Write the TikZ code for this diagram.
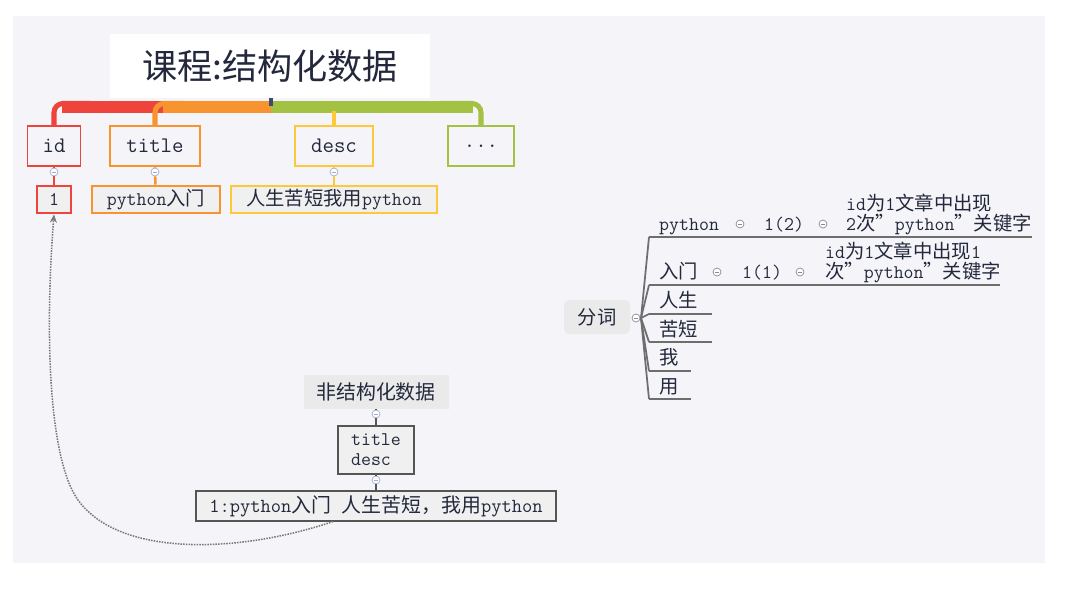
\documentclass[tikz,border=0pt]{standalone}
\usepackage{fontspec}
\newfontfamily\cjk{Noto Sans CJK SC}
\usetikzlibrary{arrows.meta}
\definecolor{cred}{RGB}{238,68,60}
\definecolor{corange}{RGB}{247,148,48}
\definecolor{cyellow}{RGB}{253,200,58}
\definecolor{cgreen}{RGB}{163,194,68}
\definecolor{cbg}{RGB}{245,245,249}
\definecolor{cfill}{RGB}{240,240,240}
\definecolor{cfen}{RGB}{234,234,234}
\definecolor{cdark}{RGB}{85,85,85}
\definecolor{cline}{RGB}{110,110,110}
\definecolor{ctext}{RGB}{35,40,60}
\definecolor{cfold}{RGB}{160,172,205}
\definecolor{cgrey}{RGB}{140,140,140}
\definecolor{cnavy}{RGB}{60,75,110}
\definecolor{cdot}{RGB}{120,120,120}
\newcommand\zh[1]{{\cjk #1}}

\begin{document}
\begin{tikzpicture}[x=0.03cm,y=-0.03cm,font=\ttfamily\fontsize{16.5}{17}\selectfont,text=ctext,
  lvl/.style={draw=#1,line width=1.7pt,fill=cbg,minimum height=1.2cm,font=\ttfamily\fontsize{19}{22}\selectfont},
  leaf/.style={draw=#1,line width=2.5pt,fill=cfill,minimum height=0.81cm,inner sep=0pt},
  fold/.style={circle,draw=#1,fill=white,line width=0.6pt,inner sep=0pt,minimum size=6.8pt,
    path picture={\draw[#1,line width=0.6pt] ([xshift=1.6pt]path picture bounding box.west) -- ([xshift=-1.6pt]path picture bounding box.east);}},
  word/.style={anchor=base west,inner sep=0pt},
  twig/.style={cline,line width=1.1pt}]
\useasboundingbox (0,0) rectangle (1073,603);
\fill[white] (0,0) rectangle (1073,603);
\fill[cbg] (13,16) rectangle (1045,563);

\node[fill=white,minimum width=9.6cm,minimum height=1.92cm,font=\cjk\fontsize{30}{34}\selectfont] (course) at (270,66) {课程:结构化数据};

\node[lvl=cred,minimum width=1.59cm] (id) at (54,146) {id};
\node[lvl=corange,minimum width=2.7cm] (title) at (155,146) {title};
\node[lvl=cyellow,minimum width=2.34cm] (desc) at (334,146) {desc};
\node[lvl=cgreen,minimum width=1.98cm] (more) at (481,146) {...};

\draw[cred,line width=4.3pt,rounded corners=7.7pt] (id.north) |- (90,103.5);
\draw[cred,line width=10.2pt] (62,107) -- (165,107);
\draw[corange,line width=4.3pt,rounded corners=7.7pt] (title.north) |- (185,103.5);
\draw[corange,line width=10.2pt] (163,107) -- (271,107);
\draw[cgreen,line width=4.3pt,rounded corners=7.7pt] (more.north) |- (440,103.5);
\draw[cgreen,line width=10.2pt] (271,107) -- (473,107);
\draw[cyellow,line width=2.6pt] (desc.north) -- ++(0,-14);
\draw[cnavy,line width=2.6pt] (course.south -| 271,0) -- ++(0,8);

\node[fold=cfold] (fid) at (54,172) {};
\node[fold=cfold] (ftitle) at (155,172) {};
\node[fold=cfold] (fdesc) at (334,172) {};
\node[leaf=cred,minimum width=1.02cm] (one) at (54,199.5) {1};
\node[leaf=corange,minimum width=3.84cm] (intro) at (156,199.5) {python\zh{入门}};
\node[leaf=cyellow,minimum width=6.18cm] (motto) at (334,199.5) {\zh{人生苦短我用}python};
\draw[cred,line width=2.2pt] (id) -- (fid) -- (one);
\draw[corange,line width=2.2pt] (title) -- (ftitle) -- (intro);
\draw[cyellow,line width=2.2pt] (desc) -- (fdesc) -- (motto);

% segmentation tree
\node[fill=cfen,rounded corners=5pt,minimum width=1.98cm,minimum height=1.02cm,font=\cjk\fontsize{16.5}{17}\selectfont] (fenci) at (597,317) {分词};
\node[fold=cgrey] (ffen) at (636,318) {};
\coordinate (fork) at (641,318);
\draw[cline,line width=1.4pt] (ffen) -- (fork);
\coordinate (b1) at (649,237); \coordinate (e1) at (1032,237);
\coordinate (b2) at (649,285); \coordinate (e2) at (1000,285);
\coordinate (b3) at (649,314); \coordinate (e3) at (712,314);
\coordinate (b4) at (649,342); \coordinate (e4) at (712,342);
\coordinate (b5) at (649,371); \coordinate (e5) at (691,371);
\coordinate (b6) at (649,399); \coordinate (e6) at (691,399);
\draw[cline,line width=1.5pt] (fork) -- (b1);
\draw[cline,line width=1.5pt] (fork) -- (b2);
\draw[cline,line width=1.5pt] (fork) -- (b3);
\draw[cline,line width=1.5pt] (fork) -- (b4);
\draw[cline,line width=1.5pt] (fork) -- (b5);
\draw[cline,line width=1.5pt] (fork) -- (b6);
\draw[twig] (b1) -- (e1);
\draw[twig] (b2) -- (e2);
\draw[twig] (b3) -- (e3);
\draw[twig] (b4) -- (e4);
\draw[twig] (b5) -- (e5);
\draw[twig] (b6) -- (e6);

\node[word] (py) at (659,230) {python};
\node[fold=cgrey] (fpy) at (740,224) {};
\node[word] (n12) at (764,230) {1(2)};
\node[fold=cgrey] (fn12) at (823,224) {};
\node[word,align=left] (note1) at (846,230) {id\zh{为}1\zh{文章中出现}\\2\zh{次”}python\zh{”关键字}};
\node[word] (rm) at (659,278) {\zh{入门}};
\node[fold=cgrey] (frm) at (717,272) {};
\node[word] (n11) at (742,278) {1(1)};
\node[fold=cgrey] (fn11) at (800,272) {};
\node[word,align=left] (note2) at (825,278) {id\zh{为}1\zh{文章中出现}1\\\zh{次”}python\zh{”关键字}};
\node[word] (rs) at (659,307) {\zh{人生}};
\node[word] (kd) at (659,336) {\zh{苦短}};
\node[word] (wo) at (659,364) {\zh{我}};
\node[word] (yong) at (659,393) {\zh{用}};

% unstructured
\node[fill=cfen,minimum width=4.35cm,minimum height=1.02cm,font=\cjk\fontsize{17}{19}\selectfont] (raw) at (376,392) {非结构化数据};
\node[fold=cfold] (fraw) at (376,414) {};
\node[draw=cdark,line width=1.7pt,fill=cfill,minimum width=2.28cm,minimum height=1.44cm,align=left] (td) at (376,450) {title\\desc};
\node[fold=cfold] (ftd) at (376,480) {};
\node[draw=cdark,line width=1.7pt,fill=cfill,minimum width=10.8cm,minimum height=0.84cm,font=\ttfamily\fontsize{17}{19}\selectfont] (row) at (376,506) {1:python\zh{入门} \zh{人生苦短，我用}python};
\draw[cdark,line width=1.5pt] (raw) -- (fraw) -- (td) -- (ftd) -- (row);

\draw[cdot,densely dotted,line width=1.3pt,-{Stealth[length=7pt,width=6pt]}] ([xshift=-1.29cm]row.south) .. controls (240,553) and (120,558) .. (78,500) .. controls (48,458) and (45,330) .. (one.south);
\end{tikzpicture}
\end{document}
